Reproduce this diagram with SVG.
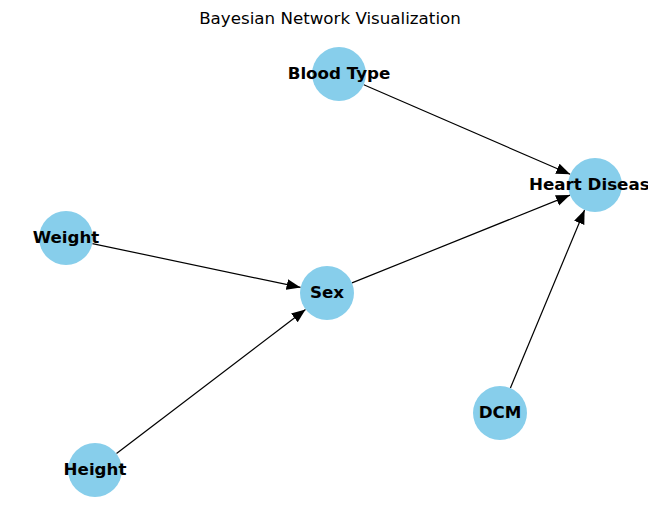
<svg xmlns="http://www.w3.org/2000/svg" width="660" height="522" viewBox="0 0 660 522">
<defs>
<style>
.node{fill:#87ceeb}
.lbl{font-family:"DejaVu Sans",sans-serif;font-weight:bold;font-size:16.7px;fill:#000;text-anchor:middle;dominant-baseline:central}
.edge{stroke:#000;stroke-width:1.2;fill:none;marker-end:url(#ah)}
.title{font-family:"DejaVu Sans",sans-serif;font-size:16.7px;fill:#000;text-anchor:middle}
</style>
<marker id="ah" markerUnits="userSpaceOnUse" markerWidth="16" markerHeight="12" refX="14" refY="5.5" orient="auto">
<path d="M0,0 L14,5.5 L0,11 Z" fill="#000"/>
</marker>
<clipPath id="ax"><rect x="12" y="28" width="636" height="494"/></clipPath>
</defs>
<rect width="660" height="522" fill="#fff"/>
<text class="title" x="330" y="24">Bayesian Network Visualization</text>
<g id="edges">
<line class="edge" x1="363.8" y1="84.7" x2="570.2" y2="174.3"/>
<line class="edge" x1="92.4" y1="243.6" x2="300.6" y2="287.4"/>
<line class="edge" x1="352.0" y1="282.9" x2="570.0" y2="195.1"/>
<line class="edge" x1="116.5" y1="453.6" x2="305.5" y2="309.4"/>
<line class="edge" x1="510.4" y1="388.1" x2="584.6" y2="209.9"/>
</g>
<g id="blood-type"><circle class="node" cx="339" cy="74" r="27"/><text class="lbl" x="339" y="73" clip-path="url(#ax)">Blood Type</text></g>
<g id="heart-disease"><circle class="node" cx="595" cy="185" r="27"/><text class="lbl" x="595" y="184" clip-path="url(#ax)">Heart Disease</text></g>
<g id="weight"><circle class="node" cx="66" cy="238" r="27"/><text class="lbl" x="66" y="237" clip-path="url(#ax)">Weight</text></g>
<g id="sex"><circle class="node" cx="327" cy="293" r="27"/><text class="lbl" x="327" y="292" clip-path="url(#ax)">Sex</text></g>
<g id="height"><circle class="node" cx="95" cy="470" r="27"/><text class="lbl" x="95" y="469" clip-path="url(#ax)">Height</text></g>
<g id="dcm"><circle class="node" cx="500" cy="413" r="27"/><text class="lbl" x="500" y="412" clip-path="url(#ax)">DCM</text></g>
</svg>
